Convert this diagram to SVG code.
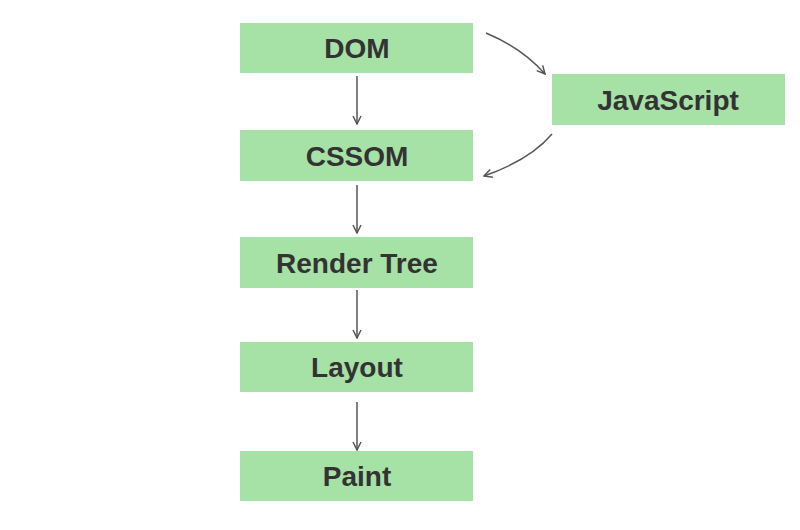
<svg xmlns="http://www.w3.org/2000/svg" width="800" height="530" viewBox="0 0 800 530">
<style>
.box{fill:#a6e1a6;}
.lbl{font-family:"Liberation Sans",Arial,sans-serif;font-weight:bold;font-size:28px;fill:#333333;text-anchor:middle;}
.edge{fill:none;stroke:#555555;stroke-width:1.5;}
</style>
<defs>
<marker id="arr" viewBox="0 0 10 10" refX="9" refY="5" markerWidth="10" markerHeight="10" markerUnits="userSpaceOnUse" orient="auto">
<path d="M1,1 L9,5 L1,9" fill="none" stroke="#555555" stroke-width="1.5"/>
</marker>
</defs>
<rect width="800" height="530" fill="#ffffff"/>
<g id="connectors">
<line class="edge" x1="357" y1="76" x2="357" y2="124" marker-end="url(#arr)"/>
<line class="edge" x1="357" y1="185" x2="357" y2="233" marker-end="url(#arr)"/>
<line class="edge" x1="357" y1="290" x2="357" y2="338" marker-end="url(#arr)"/>
<line class="edge" x1="357" y1="402" x2="357" y2="450" marker-end="url(#arr)"/>
<path class="edge" d="M486,33 Q522,48 545,74" marker-end="url(#arr)"/>
<path class="edge" d="M552,134 Q530,160 484,176" marker-end="url(#arr)"/>
</g>
<g id="dom"><rect class="box" x="240" y="23" width="233" height="50"/><text class="lbl" x="357" y="58">DOM</text></g>
<g id="javascript"><rect class="box" x="552" y="74" width="233" height="51"/><text class="lbl" x="668" y="110">JavaScript</text></g>
<g id="cssom"><rect class="box" x="240" y="130" width="233" height="51"/><text class="lbl" x="357" y="166">CSSOM</text></g>
<g id="render-tree"><rect class="box" x="240" y="237" width="233" height="51"/><text class="lbl" x="357" y="273">Render Tree</text></g>
<g id="layout"><rect class="box" x="240" y="342" width="233" height="50"/><text class="lbl" x="357" y="377">Layout</text></g>
<g id="paint"><rect class="box" x="240" y="451" width="233" height="50"/><text class="lbl" x="357" y="486">Paint</text></g>
</svg>
